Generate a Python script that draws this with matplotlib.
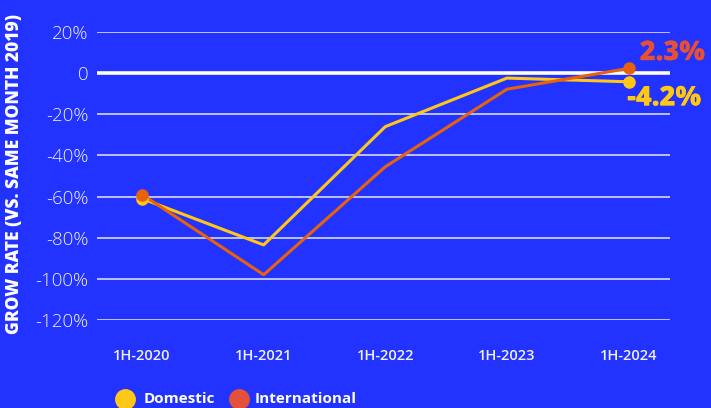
import matplotlib.pyplot as plt
import matplotlib.patheffects as pe
import numpy as np

periods = ['1H-2020', '1H-2021', '1H-2022', '1H-2023', '1H-2024']
domestic = [-61.0, -83.5, -26.0, -2.4, -4.2]
international = [-59.0, -98.0, -45.5, -7.8, 2.3]
yticks = [20, 0, -20, -40, -60, -80, -100, -120]
ylabels = ['20%', '0', '-20%', '-40%', '-60%', '-80%', '-100%', '-120%']

BG = '#2232FF'
YEL = '#FFC816'
ORG = '#E8620C'
RED = '#E4503A'

plt.rcParams['font.family'] = ['Open Sans', 'DejaVu Sans']

fig = plt.figure(figsize=(7.11, 4.08), dpi=100)
fig.set_facecolor(BG)
ax = fig.add_axes([97 / 711, 1 - 320 / 408, (670 - 97) / 711, (320 - 32) / 408])
ax.set_facecolor(BG)

x = np.arange(len(periods))
ax.set_xlim(-0.37, 4.34)
ax.set_ylim(-120, 20)

for t in yticks:
    if t == 0:
        ax.axhline(t, color='white', lw=2.6, zorder=1)
    else:
        ax.axhline(t, color='#E6E8FF', lw=1.1, zorder=1)

ax.plot(x, domestic, color=YEL, lw=2.2, zorder=3, clip_on=False)
ax.plot(x, international, color=ORG, lw=2.2, zorder=3, clip_on=False)
ax.plot([x[0], x[-1]], [domestic[0], domestic[-1]], 'o', color=YEL, ms=8, zorder=4, clip_on=False)
ax.plot([x[0], x[-1]], [international[0], international[-1]], 'o', color=ORG, ms=8, zorder=5, clip_on=False)

shadow = [pe.withSimplePatchShadow(offset=(0, 0), shadow_rgbFace='#101880', alpha=0.6), pe.Normal()]
ax.annotate(f'{international[-1]:.1f}%', (x[-1], international[-1]), xytext=(8, 11),
            textcoords='offset points', color=RED, fontsize=19.5, fontweight='heavy',
            ha='left', va='center', path_effects=shadow, annotation_clip=False)
ax.annotate(f'{domestic[-1]:.1f}%', (x[-1], domestic[-1]), xytext=(-1, -12),
            textcoords='offset points', color=YEL, fontsize=19.5, fontweight='heavy',
            ha='left', va='center', path_effects=shadow, annotation_clip=False)

ax.set_yticks(yticks)
ax.set_yticklabels(ylabels, fontsize=13.5, color='#F0F0FF', fontweight='light')
ax.set_xticks(x)
ax.set_xticklabels(periods, fontsize=10.5, color='#F0F0FF', fontweight='semibold')
ax.tick_params(axis='y', length=0, pad=6)
ax.tick_params(axis='x', length=0, pad=21)
for s in ax.spines.values():
    s.set_visible(False)

fig.text(15 / 711, 1 - 174 / 408, 'GROW RATE (VS. SAME MONTH 2019)', rotation=90,
         color='white', fontsize=12.5, fontweight='heavy', ha='center', va='center')

# legend
fig.lines.append(plt.Line2D([125 / 711], [1 - 399 / 408], marker='o', color=YEL, ms=14,
                            transform=fig.transFigure))
fig.lines.append(plt.Line2D([239 / 711], [1 - 399 / 408], marker='o', color=RED, ms=14,
                            transform=fig.transFigure))
fig.text(144 / 711, 1 - 399 / 408, 'Domestic', color='white', fontsize=11,
         fontweight='bold', va='center')
fig.text(255 / 711, 1 - 399 / 408, 'International', color='white', fontsize=11,
         fontweight='bold', va='center')

fig.savefig('out.png', dpi=100, facecolor=BG)
